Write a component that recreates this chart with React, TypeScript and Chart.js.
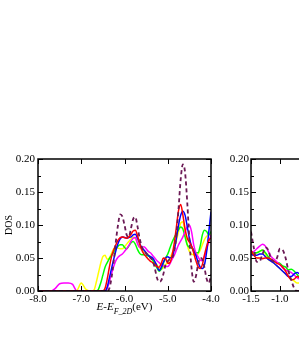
import { useEffect, useRef } from 'react';
import { Chart, registerables } from 'chart.js';
Chart.register(...registerables);

// ---------- data (left panel) ----------
const energyLeft = [-8.0, -7.9, -7.8, -7.7, -7.6, -7.5, -7.4, -7.3, -7.2, -7.1, -7.0, -6.9, -6.8,
  -6.75, -6.7, -6.65, -6.6, -6.55, -6.5, -6.45, -6.4, -6.35, -6.3, -6.25, -6.2, -6.15, -6.1, -6.05, -6.0,
  -5.95, -5.9, -5.85, -5.8, -5.75, -5.7, -5.65, -5.6, -5.55, -5.5, -5.45, -5.4, -5.35, -5.3, -5.25, -5.2,
  -5.15, -5.1, -5.05, -5.0, -4.95, -4.9, -4.85, -4.8, -4.75, -4.7, -4.65, -4.6, -4.55, -4.5, -4.45, -4.4,
  -4.35, -4.3, -4.25, -4.2, -4.15, -4.1, -4.05, -4.0];

const dashedLeft = [0, 0, 0, 0, 0, 0, 0, 0, 0, 0, 0, 0, 0,
  0, 0, 0, 0, 0, 0, 0, 0, 0.004, 0.02, 0.045, 0.075, 0.1, 0.116, 0.113, 0.1,
  0.085, 0.082, 0.095, 0.109, 0.112, 0.098, 0.08, 0.067, 0.06, 0.057, 0.053, 0.05, 0.046, 0.035, 0.02, 0.014,
  0.016, 0.026, 0.04, 0.045, 0.048, 0.05, 0.06, 0.085, 0.125, 0.17, 0.192, 0.18, 0.135, 0.078, 0.035, 0.014,
  0.022, 0.04, 0.05, 0.048, 0.035, 0.018, 0.012, 0.025];

const redLeft = [0, 0, 0, 0, 0, 0, 0, 0, 0, 0, 0, 0, 0,
  0, 0, 0, 0, 0, 0, 0.004, 0.018, 0.036, 0.052, 0.062, 0.07, 0.077, 0.081, 0.082, 0.081,
  0.08, 0.082, 0.086, 0.091, 0.092, 0.084, 0.072, 0.062, 0.056, 0.052, 0.048, 0.045, 0.043, 0.04, 0.037, 0.036,
  0.042, 0.05, 0.049, 0.042, 0.043, 0.054, 0.072, 0.097, 0.122, 0.131, 0.115, 0.094, 0.08, 0.074, 0.068, 0.058,
  0.046, 0.037, 0.034, 0.04, 0.055, 0.068, 0.077, 0.08];

const blueLeft = [0, 0, 0, 0, 0, 0, 0, 0, 0, 0, 0, 0, 0,
  0, 0, 0, 0, 0, 0, 0, 0.006, 0.02, 0.034, 0.048, 0.061, 0.072, 0.079, 0.082, 0.081,
  0.08, 0.081, 0.082, 0.085, 0.086, 0.08, 0.072, 0.066, 0.062, 0.058, 0.054, 0.052, 0.05, 0.045, 0.038, 0.031,
  0.036, 0.044, 0.05, 0.052, 0.05, 0.052, 0.062, 0.08, 0.1, 0.115, 0.121, 0.115, 0.098, 0.08, 0.068, 0.06,
  0.054, 0.044, 0.036, 0.034, 0.04, 0.06, 0.09, 0.12];

const greenLeft = [0, 0, 0, 0, 0, 0, 0, 0, 0, 0, 0, 0, 0,
  0, 0, 0, 0.003, 0.012, 0.024, 0.036, 0.043, 0.049, 0.054, 0.059, 0.064, 0.068, 0.07, 0.07, 0.066,
  0.064, 0.068, 0.073, 0.075, 0.071, 0.063, 0.057, 0.055, 0.055, 0.054, 0.053, 0.051, 0.047, 0.041, 0.035, 0.03,
  0.033, 0.042, 0.05, 0.056, 0.065, 0.074, 0.081, 0.087, 0.093, 0.097, 0.094, 0.082, 0.07, 0.066, 0.065, 0.063,
  0.058, 0.058, 0.068, 0.085, 0.092, 0.09, 0.085, 0.09];

const yellowLeft = [0, 0, 0, 0, 0, 0, 0, 0, 0, 0.001, 0.012, 0.003, 0,
  0, 0.002, 0.014, 0.028, 0.042, 0.052, 0.054, 0.048, 0.05, 0.057, 0.064, 0.066, 0.065, 0.064, 0.064, 0.067,
  0.071, 0.075, 0.079, 0.082, 0.08, 0.073, 0.066, 0.063, 0.06, 0.058, 0.055, 0.051, 0.047, 0.043, 0.04, 0.034,
  0.033, 0.036, 0.04, 0.043, 0.05, 0.057, 0.066, 0.077, 0.09, 0.103, 0.105, 0.088, 0.07, 0.06, 0.056, 0.055,
  0.054, 0.056, 0.062, 0.07, 0.078, 0.083, 0.085, 0.085];

const magentaLeft = [0, 0, 0, 0, 0.004, 0.011, 0.012, 0.012, 0.01, 0, 0, 0, 0,
  0, 0, 0, 0, 0, 0, 0, 0.004, 0.014, 0.026, 0.037, 0.046, 0.051, 0.054, 0.056, 0.06,
  0.064, 0.069, 0.075, 0.08, 0.081, 0.072, 0.066, 0.066, 0.067, 0.064, 0.06, 0.058, 0.054, 0.05, 0.046, 0.043,
  0.04, 0.038, 0.037, 0.037, 0.041, 0.048, 0.054, 0.062, 0.07, 0.076, 0.082, 0.09, 0.097, 0.1, 0.09, 0.07,
  0.058, 0.052, 0.047, 0.046, 0.053, 0.063, 0.075, 0.085];

// ---------- data (right panel) ----------
const energyRight = [-1.5, -1.45, -1.4, -1.35, -1.3, -1.25, -1.2, -1.15, -1.1, -1.05, -1.0,
  -0.95, -0.9, -0.85, -0.8, -0.75, -0.7, -0.65, -0.6];
const dashedRight = [0.09, 0.065, 0.044, 0.045, 0.056, 0.066, 0.062, 0.048, 0.045, 0.05, 0.064,
  0.062, 0.05, 0.03, 0.016, 0.004, 0, 0, 0];
const redRight = [0.062, 0.054, 0.05, 0.05, 0.049, 0.05, 0.05, 0.048, 0.045, 0.042, 0.04,
  0.036, 0.03, 0.022, 0.017, 0.018, 0.022, 0.02, 0.018];
const blueRight = [0.056, 0.054, 0.054, 0.056, 0.056, 0.052, 0.048, 0.045, 0.042, 0.038, 0.034,
  0.03, 0.026, 0.022, 0.022, 0.026, 0.028, 0.025, 0.02];
const greenRight = [0.06, 0.058, 0.058, 0.06, 0.062, 0.058, 0.052, 0.048, 0.045, 0.043, 0.042,
  0.038, 0.036, 0.032, 0.033, 0.03, 0.025, 0.02, 0.018];
const yellowRight = [0.058, 0.056, 0.058, 0.06, 0.062, 0.056, 0.048, 0.045, 0.042, 0.038, 0.034,
  0.03, 0.026, 0.022, 0.018, 0.015, 0.012, 0.012, 0.012];
const magentaRight = [0.058, 0.06, 0.064, 0.068, 0.071, 0.068, 0.06, 0.052, 0.048, 0.044, 0.04,
  0.035, 0.032, 0.03, 0.028, 0.024, 0.02, 0.018, 0.018];

const yMinorTicks = [0.025, 0.075, 0.125, 0.175];

const FONT = '"Liberation Serif", "Times New Roman", serif';
const DASH_COLOR = '#6b1a55';

function pts(xs: number[], ys: number[]) {
  return xs.map((x, i) => ({ x, y: ys[i] }));
}

const framePlugin = {
  id: 'frameTicks',
  afterDatasetsDraw(chart: any) {
    const { ctx, chartArea } = chart;
    const { left, right, top, bottom } = chartArea;
    const xs = chart.scales.x;
    const ys = chart.scales.y;
    ctx.save();
    ctx.strokeStyle = '#000';
    ctx.lineWidth = 1;
    ctx.beginPath();
    for (const t of xs.ticks) {
      const px = Math.round(xs.getPixelForValue(t.value)) + 0.5;
      ctx.moveTo(px, bottom); ctx.lineTo(px, bottom - 5);
      ctx.moveTo(px, top); ctx.lineTo(px, top + 5);
    }
    for (const t of ys.ticks) {
      const py = Math.round(ys.getPixelForValue(t.value)) + 0.5;
      ctx.moveTo(left, py); ctx.lineTo(left + 5, py);
      ctx.moveTo(right, py); ctx.lineTo(right - 5, py);
    }
    for (const v of yMinorTicks) {
      const py = Math.round(ys.getPixelForValue(v)) + 0.5;
      ctx.moveTo(left, py); ctx.lineTo(left + 3, py);
      ctx.moveTo(right, py); ctx.lineTo(right - 3, py);
    }
    ctx.stroke();
    ctx.lineWidth = 1.5;
    ctx.strokeRect(left, top, right - left, bottom - top);
    ctx.restore();
  },
};

function makeDatasets(xs: number[], d: number[], r: number[], b: number[], g: number[], yl: number[], m: number[]) {
  const base = { pointRadius: 0, borderWidth: 1.5, cubicInterpolationMode: 'monotone' as const, fill: false };
  return [
    { ...base, data: pts(xs, d), borderColor: DASH_COLOR, borderDash: [4, 3], borderWidth: 1.8 },
    { ...base, data: pts(xs, r), borderColor: '#ff0000' },
    { ...base, data: pts(xs, b), borderColor: '#0000ff' },
    { ...base, data: pts(xs, m), borderColor: '#ff00ff' },
    { ...base, data: pts(xs, g), borderColor: '#00ff00' },
    { ...base, data: pts(xs, yl), borderColor: '#ffff00' },
  ];
}

function makeConfig(opts: {
  datasets: any[]; xmin: number; xmax: number; step: number; yWidth: number; title: boolean; labelPad: number;
}) {
  return {
    type: 'line' as const,
    data: { datasets: opts.datasets },
    plugins: [framePlugin],
    options: {
      animation: false as const,
      responsive: false,
      devicePixelRatio: 1,
      layout: { padding: { top: 19, right: 14, left: 0, bottom: 0 } },
      plugins: { legend: { display: false }, tooltip: { enabled: false } },
      scales: {
        x: {
          type: 'linear' as const,
          min: opts.xmin, max: opts.xmax,
          grid: { display: false, drawTicks: false },
          border: { display: false },
          ticks: {
            stepSize: opts.step, padding: 2, color: '#000',
            font: { family: FONT, size: 11 },
            callback: (v: any) => Number(v).toFixed(1),
            maxRotation: 0, autoSkip: false,
          },
          afterFit: (s: any) => { s.height = 29; },
        },
        y: {
          type: 'linear' as const,
          min: 0, max: 0.2,
          grid: { display: false, drawTicks: false },
          border: { display: false },
          ticks: {
            stepSize: 0.05, padding: opts.labelPad, color: '#000',
            font: { family: FONT, size: 11 },
            callback: (v: any) => Number(v).toFixed(2),
          },
          title: {
            display: opts.title, text: 'DOS', color: '#000',
            font: { family: FONT, size: 10 }, padding: { top: 3, bottom: 0 },
          },
          afterFit: (s: any) => { s.width = opts.yWidth; },
        },
      },
    },
  };
}

export default function App() {
  const leftRef = useRef<HTMLCanvasElement>(null);
  const rightRef = useRef<HTMLCanvasElement>(null);

  useEffect(() => {
    const c1 = new Chart(leftRef.current as HTMLCanvasElement, makeConfig({
      datasets: makeDatasets(energyLeft, dashedLeft, redLeft, blueLeft, greenLeft, yellowLeft, magentaLeft),
      xmin: -8, xmax: -4, step: 1, yWidth: 38, title: true, labelPad: 3,
    }) as any);
    const c2 = new Chart(rightRef.current as HTMLCanvasElement, makeConfig({
      datasets: makeDatasets(energyRight, dashedRight, redRight, blueRight, greenRight, yellowRight, magentaRight),
      xmin: -1.5, xmax: 1.5, step: 0.5, yWidth: 36, title: false, labelPad: 2,
    }) as any);
    return () => { c1.destroy(); c2.destroy(); };
  }, []);

  return (
    <div style={{ position: 'fixed', left: 0, top: 0, width: 299, height: 342, overflow: 'hidden', background: '#fff' }}>
      <canvas ref={leftRef} width={225} height={180}
        style={{ position: 'absolute', left: 0, top: 140, width: 225, height: 180 }} />
      <canvas ref={rightRef} width={223} height={180}
        style={{ position: 'absolute', left: 215, top: 140, width: 223, height: 180 }} />
      <div style={{
        position: 'absolute', left: 0, top: 300, width: 249, textAlign: 'center',
        fontFamily: FONT, fontSize: 11, lineHeight: '13px', color: '#000', whiteSpace: 'nowrap',
      }}>
        <i>E</i>-<i>E</i><span style={{ fontSize: 8, position: 'relative', top: 4 }}><i>F_2D</i></span>(eV)
      </div>
    </div>
  );
}
